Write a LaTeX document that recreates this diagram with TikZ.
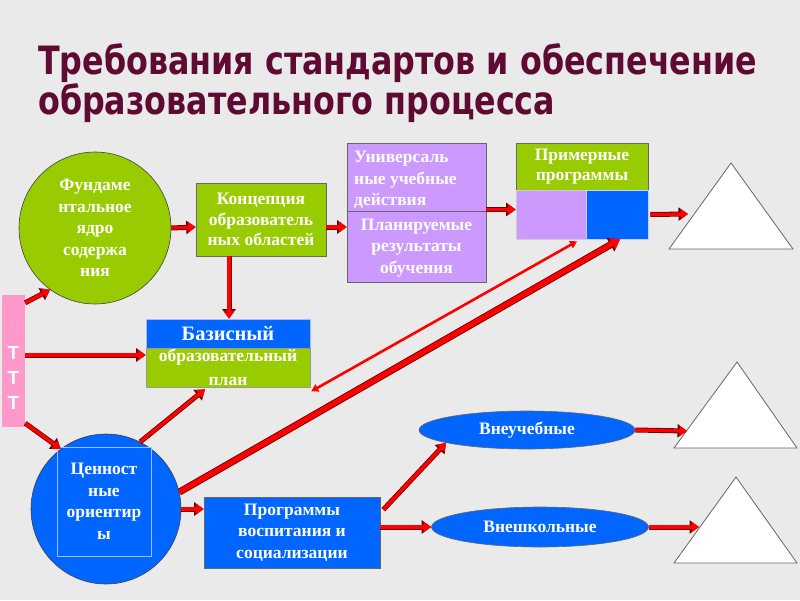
\documentclass[tikz,border=0pt]{standalone}
\usepackage{fontspec}
\setmainfont{Liberation Serif}
\newfontfamily\titlefont{DejaVu Sans Condensed}
\newfontfamily\pinkfont{Liberation Sans}
\usetikzlibrary{arrows.meta,shapes.geometric,calc}
\definecolor{bgc}{HTML}{EAEAEA}
\definecolor{titc}{HTML}{5E0A32}
\definecolor{grn}{HTML}{99CC00}
\definecolor{blu}{HTML}{0066FF}
\definecolor{pur}{HTML}{CC99FF}
\definecolor{pnk}{HTML}{FF99CC}
\definecolor{arred}{HTML}{FF0000}
\definecolor{arrdark}{HTML}{6A0000}
\tikzset{
  box/.style={draw=black!60, line width=0.6pt, inner sep=0pt, text=white, align=center, font=\bfseries\fontsize{17.5}{21}\selectfont},
  circ/.style={circle, draw=black!75, line width=0.6pt, inner sep=0pt, text=white, align=center, font=\bfseries\fontsize{17.5}{21.5}\selectfont},
  oval/.style={ellipse, draw=black!60, line width=0.6pt, inner sep=0pt, fill=blu, text=white, font=\bfseries\fontsize{17.5}{20}\selectfont},
  tri/.style={draw=black!60, line width=0.8pt, fill=white},
  arrO/.style={draw=arrdark, line width=5pt, -{Triangle[length=9.5pt,width=13pt]}},
  arrI/.style={draw=arred, line width=3.4pt, -{Triangle[length=7.5pt,width=10pt]}},
  bigO/.style={draw=arrdark, line width=7pt, -{Triangle[length=11pt,width=15pt]}},
  bigI/.style={draw=arred, line width=5.2pt, -{Triangle[length=9pt,width=12pt]}},
  thin/.style={draw=arred, line width=2.6pt, {Triangle[length=7pt,width=8pt]}-{Triangle[length=7pt,width=8pt]}}
}
\newcommand\redarrow[2]{\draw[arrO] #1 -- #2; \draw[arrI] #1 -- #2;}
\begin{document}
\begin{tikzpicture}[x=1pt,y=-1pt]
\fill[bgc] (0,0) rectangle (800,600);
\useasboundingbox (0,0) rectangle (800,600);

% title
\node[anchor=base west, text=titc, font=\titlefont\bfseries\fontsize{39}{40}\selectfont, inner sep=0pt] (t1) at (38,74) {\scalebox{0.905}[1]{Требования стандартов и обеспечение}};
\node[anchor=base west, text=titc, font=\titlefont\bfseries\fontsize{39}{40}\selectfont, inner sep=0pt] (t2) at (38,114) {\scalebox{0.905}[1]{образовательного процесса}};

% green circle
\node[circ, fill=grn, minimum size=152pt] (fund) at (95,228) {Фундаме\\нтальное\\ядро\\содержа\\ния};
% concept
\node[box, fill=grn, minimum width=130pt, minimum height=73pt, font=\bfseries\fontsize{17.5}{20.5}\selectfont] (konc) at (261,219.5) {Концепция\\образователь\\ных областей};
% purple box
\node[box, fill=pur, minimum width=139pt, minimum height=139pt] (uud) at (416.5,212.5) {};
\draw[black!60, line width=0.6pt] (uud.west |- 0,211) -- (uud.east |- 0,211);
\node[anchor=west, text=white, align=left, font=\bfseries\fontsize{17.5}{21.5}\selectfont, inner sep=0pt] (uudt) at (354,180) {Универсаль\\ные учебные\\действия};
\node[text=white, align=center, font=\bfseries\fontsize{17.5}{21.5}\selectfont, inner sep=0pt] (plan) at (416.5,248) {Планируемые\\результаты\\обучения};
% primernye
\node[box, fill=grn, minimum width=132pt, minimum height=47pt, font=\bfseries\fontsize{17.5}{20}\selectfont] (prim) at (582,166.5) {Примерные\\программы};
\node[box, fill=pur, draw=white!80!black, minimum width=70pt, minimum height=49pt] (pa) at (551,214.5) {};
\node[box, fill=blu, draw=white!80!blue, minimum width=62pt, minimum height=49pt] (pb) at (617,214.5) {};
% bazisny
\node[box, fill=blu, draw=white!70!blue, minimum width=164pt, minimum height=29pt, font=\bfseries\fontsize{20.5}{22}\selectfont] (baz) at (228,333.5) {Базисный};
\node[box, fill=grn, draw=white!60!black, minimum width=164pt, minimum height=39pt, font=\bfseries\fontsize{17.5}{21.5}\selectfont] (bazg) at (228,367.5) {\raisebox{2pt}{образовательный}\\план};
% pink
\node[fill=pnk, minimum width=23pt, minimum height=132pt, inner sep=0pt] (pink) at (13.5,361) {};
\node[inner sep=0pt, text=white, align=center, font=\pinkfont\bfseries\fontsize{19}{25}\selectfont] (pinkt) at (13.5,378) {Т\\Т\\Т};
% blue circle
\node[circ, fill=blu, minimum size=150pt] (cenn) at (106,509) {};
\node[draw=white!60!blu, line width=0.8pt, minimum width=94pt, minimum height=109pt, inner sep=0pt, text=white, align=center, font=\bfseries\fontsize{17.5}{21.5}\selectfont] (cennt) at (104,501.5) {Ценност\\ные\\ориентир\\ы};
% programmy vospitaniya
\node[box, fill=blu, draw=black!60, minimum width=176pt, minimum height=71pt, font=\bfseries\fontsize{17.5}{21.5}\selectfont] (prog) at (292,532.5) {Программы\\воспитания и\\социализации};
% ellipses
\node[oval, minimum width=216pt, minimum height=38pt] (vneuch) at (527,430) {Внеучебные};
\node[oval, minimum width=217pt, minimum height=40pt] (vnesh) at (540,527) {Внешкольные};
% triangles
\draw[tri] (669,249) -- (731,163) -- (793,249) -- cycle;
\draw[tri] (674,448) -- (737,362) -- (797,448) -- cycle;
\draw[tri] (674,563) -- (736,477) -- (797,563) -- cycle;
\coordinate (e1) at (688,214);
\coordinate (e2) at (687,431);
\coordinate (e3) at (699,527);

% arrows
\redarrow{(fund.east)}{([yshift=-7.5pt]konc.west)}
\redarrow{([xshift=-32pt]konc.south)}{([xshift=1pt]baz.north)}
\redarrow{([yshift=-7.5pt]konc.east)}{([yshift=-14.5pt]uud.west)}
\redarrow{([yshift=1.5pt]uud.east |- 0,211)}{([yshift=1.5pt]pa.west |- 0,211)}
\redarrow{([xshift=2pt]pb.east)}{(e1)}
\redarrow{([yshift=-8pt]pink.north east)}{(fund.234)}
\redarrow{(pink.east |- 0,355)}{(bazg.west |- 0,355)}
\redarrow{([yshift=4pt]pink.south east)}{(cenn.127)}
\redarrow{(cenn.63)}{([xshift=-23pt,yshift=-2pt]bazg.south)}
\redarrow{(cenn.east)}{(prog.west |- cenn.east)}
\draw[bigO] (cenn.13) -- ([xshift=3pt]pb.south);
\draw[bigI] (cenn.13) -- ([xshift=3pt]pb.south);
\draw[thin] ([xshift=1pt,yshift=-4pt]bazg.south east) -- ([xshift=26pt,yshift=-2pt]pa.south);
\redarrow{([xshift=3pt,yshift=-13pt]prog.north east)}{(vneuch.189)}
\redarrow{(prog.east |- vnesh.west)}{(vnesh.west)}
\redarrow{(vneuch.east)}{(e2)}
\redarrow{(vnesh.east)}{(e3)}
\end{tikzpicture}
\end{document}
